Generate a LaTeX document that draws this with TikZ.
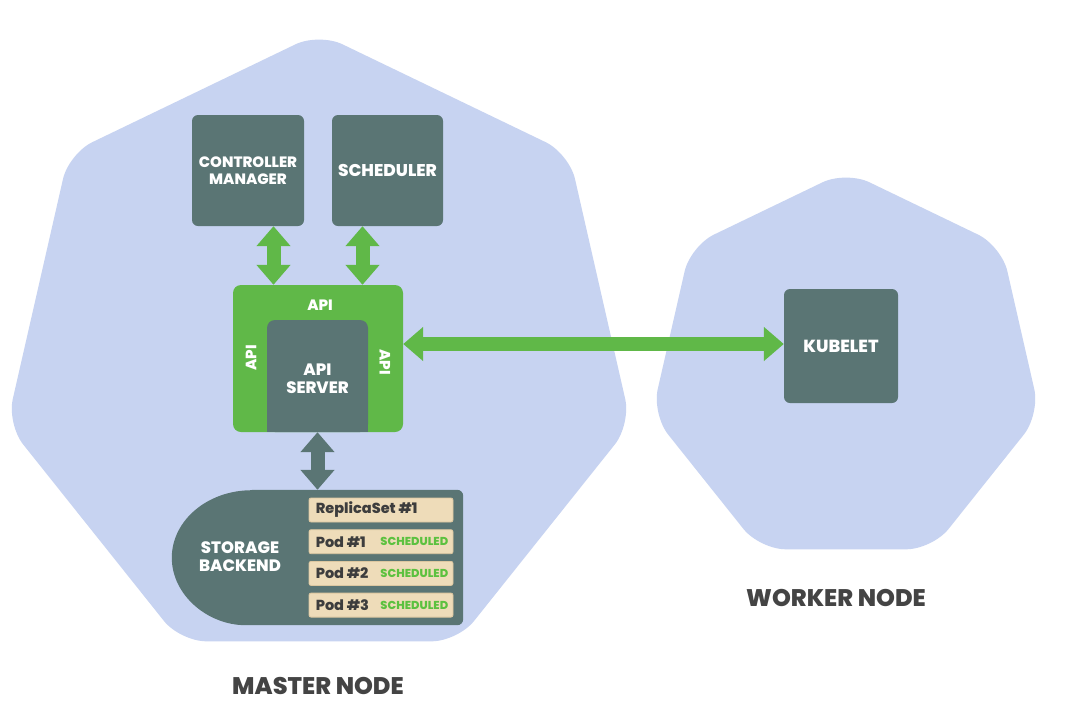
\documentclass[tikz,border=0pt]{standalone}
\usepackage{fontspec}
\setmainfont{Poppins}[BoldFont={Poppins ExtraBold}]
\usetikzlibrary{arrows.meta,shapes.geometric}
\definecolor{hexblue}{HTML}{C7D3F1}
\definecolor{slate}{HTML}{5A7574}
\definecolor{apigreen}{HTML}{60B848}
\definecolor{podbeige}{HTML}{EEDCB9}
\definecolor{podedge}{HTML}{DCC7A0}
\definecolor{schedgreen}{HTML}{5CC13F}
\definecolor{labelgray}{HTML}{444444}
\definecolor{podtext}{HTML}{3D3D3D}
\begin{document}
\begin{tikzpicture}[x=1pt, y=-1pt,
    hexnode/.style={regular polygon, regular polygon sides=7, fill=hexblue,
      inner sep=0, outer sep=0, rounded corners=26pt},
    boxtext/.style={text=white, align=center, inner sep=0,
      font=\fontsize{16.5}{18}\selectfont\bfseries},
    darkbox/.style={boxtext, fill=slate, rounded corners=6pt},
    apilabel/.style={text=white, font=\fontsize{15}{17}\selectfont\bfseries},
    podrow/.style={fill=podbeige, draw=podedge, line width=0.8pt, rounded corners=2pt,
      minimum width=144, minimum height=24, inner sep=0},
    podname/.style={text=podtext, font=\fontsize{14.5}{16}\selectfont\bfseries,
      anchor=west, inner sep=0},
    schedtag/.style={text=schedgreen, font=\fontsize{11.5}{13}\selectfont\bfseries,
      anchor=east, inner sep=0},
    nodetitle/.style={text=labelgray, font=\fontsize{24}{28}\selectfont\bfseries},
    fatarrow/.style={line width=14pt, >={Triangle[width=33pt,length=20pt]}, <->}]
    \useasboundingbox (0,0) rectangle (1065,716);
    \fill[white] (0,0) rectangle (1065,716);

    \node[hexnode, minimum size=640] (master) at (319,353) {};
    \node[hexnode, minimum size=398] (worker) at (846,370) {};
    \node[nodetitle] (mastertitle) at (318,686) {MASTER NODE};
    \node[nodetitle] (workertitle) at (836,598) {WORKER NODE};

    \node[darkbox, font=\fontsize{15}{17}\selectfont\bfseries, minimum width=112, minimum height=111]
      (ctrl) at (248,170.5) {CONTROLLER\\MANAGER};
    \node[darkbox, font=\fontsize{17}{19}\selectfont\bfseries, minimum width=111, minimum height=111]
      (sched) at (387.5,170.5) {SCHEDULER};
    \node[darkbox, font=\fontsize{17.5}{19}\selectfont\bfseries, minimum width=114, minimum height=114]
      (kubelet) at (841,346) {KUBELET};

    \node[fill=apigreen, rounded corners=8pt, minimum width=170, minimum height=147] (api) at (318,358.5) {};
    \node[darkbox, rounded corners=8pt, minimum width=101, minimum height=112] (srv) at (317.5,376) {};
    \fill[slate] ([yshift=10pt]srv.south west) rectangle (srv.south east);
    \node[boxtext] (srvtext) at (317.5,379) {API\\SERVER};
    \node[apilabel] (apitop) at (320,305) {API};
    \node[apilabel, rotate=90] (apileft) at (251,358) {API};
    \node[apilabel, rotate=-90] (apiright) at (385,362) {API};

    \node[minimum width=291, minimum height=135, inner sep=0] (storage) at (317.5,557.5) {};
    \fill[slate, rounded corners=6pt] ([xshift=80pt]storage.north west) -- (storage.north east)
      -- (storage.south east) -- ([xshift=80pt]storage.south west) [sharp corners]
      arc[start angle=90, end angle=270, x radius=80, y radius=67.5] -- cycle;
    \node[boxtext] (storelabel) at (240,557) {STORAGE\\BACKEND};

    \node[podrow] (rs) at (381,510) {};
    \node[podname] (rstext) at ([xshift=7pt]rs.west) {ReplicaSet \#1};
    \foreach \i in {1,2,3} {
        \node[podrow] (pod\i) at (381,{510+31.7*\i}) {};
        \node[podname] (podtext\i) at ([xshift=7pt]pod\i.west) {Pod \#\i};
        \node[schedtag] (tag\i) at ([xshift=-5pt]pod\i.east) {SCHEDULED};
    }

    \draw[fatarrow, apigreen] ([xshift=-44.5pt]api.north) -- ([xshift=-44.5pt]api.north |- ctrl.south);
    \draw[fatarrow, apigreen] ([xshift=44.5pt]api.north) -- ([xshift=44.5pt]api.north |- sched.south);
    \draw[fatarrow, apigreen] ([yshift=2pt]api.east |- kubelet.west) -- ([yshift=2pt]kubelet.west);
    \draw[fatarrow, slate] (srv.south) -- (srv.south |- storage.north);
\end{tikzpicture}
\end{document}
